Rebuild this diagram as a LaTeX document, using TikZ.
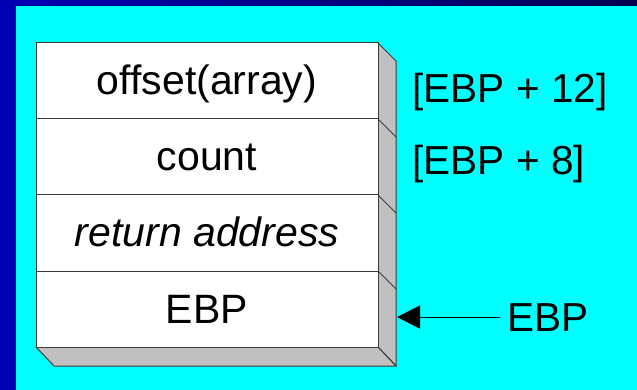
\documentclass[tikz,border=0pt]{standalone}
\usepackage{fontspec}
\setmainfont{Liberation Sans}
\usetikzlibrary{arrows.meta}
\definecolor{bgcyan}{HTML}{00FFFF}
\definecolor{stripblue}{HTML}{0000B4}
\definecolor{stripdark}{HTML}{000050}
\definecolor{sidegray}{HTML}{C0C0C0}
\definecolor{edgegray}{HTML}{3A3A3A}
\tikzset{
  cell/.style={draw=edgegray, line width=1pt, fill=white, minimum width=342pt, minimum height=76pt,
    inner sep=0pt, text height=28pt, text depth=0pt, font=\fontsize{41}{49}\selectfont},
  side/.style={draw=edgegray, line width=1pt, fill=sidegray, line join=round},
  lbl/.style={inner sep=0pt, font=\fontsize{40.5}{48}\selectfont},
  arr/.style={line width=1pt, -{Triangle[length=23pt,width=23pt]}}
}
\begin{document}
\begin{tikzpicture}[x=1pt,y=-1pt]
\useasboundingbox (0,0) rectangle (637,390);
% background
\fill[bgcyan] (0,0) rectangle (637,390);
\fill[stripblue] (0,0) rectangle (16,390);
\shade[left color=stripblue, right color=stripdark] (0,0) rectangle (637,6);
% 3D sides
\draw[side] (378,43) -- (396,61) -- (396,366) -- (378,347) -- cycle;
\draw[side] (36,347) -- (54,366) -- (396,366) -- (378,347) -- cycle;
\foreach \yy in {119,195,271} {\draw[edgegray, line width=1pt] (378,\yy) -- (396,\yy+18);}
% cells
\node[cell] (c1) at (207,81) {offset(array)\ };
\node[cell] (c2) at (207,157) {count};
\node[cell] (c3) at (207,233) {\itshape return address};
\node[cell] (c4) at (207,309) {EBP};
% labels
\node[lbl, anchor=base west] (l12) at (412.5,103) {[EBP + 12]};
\node[lbl, anchor=base west] (l8) at (412.5,175) {[EBP + 8]};
\node[lbl, anchor=base west] (lebp) at (507,331) {EBP};
\coordinate (rc) at (397,0);
\coordinate (tip) at (lebp.west -| rc);
\draw[arr] ([xshift=-7pt]lebp.west) -- (tip);
\end{tikzpicture}
\end{document}
